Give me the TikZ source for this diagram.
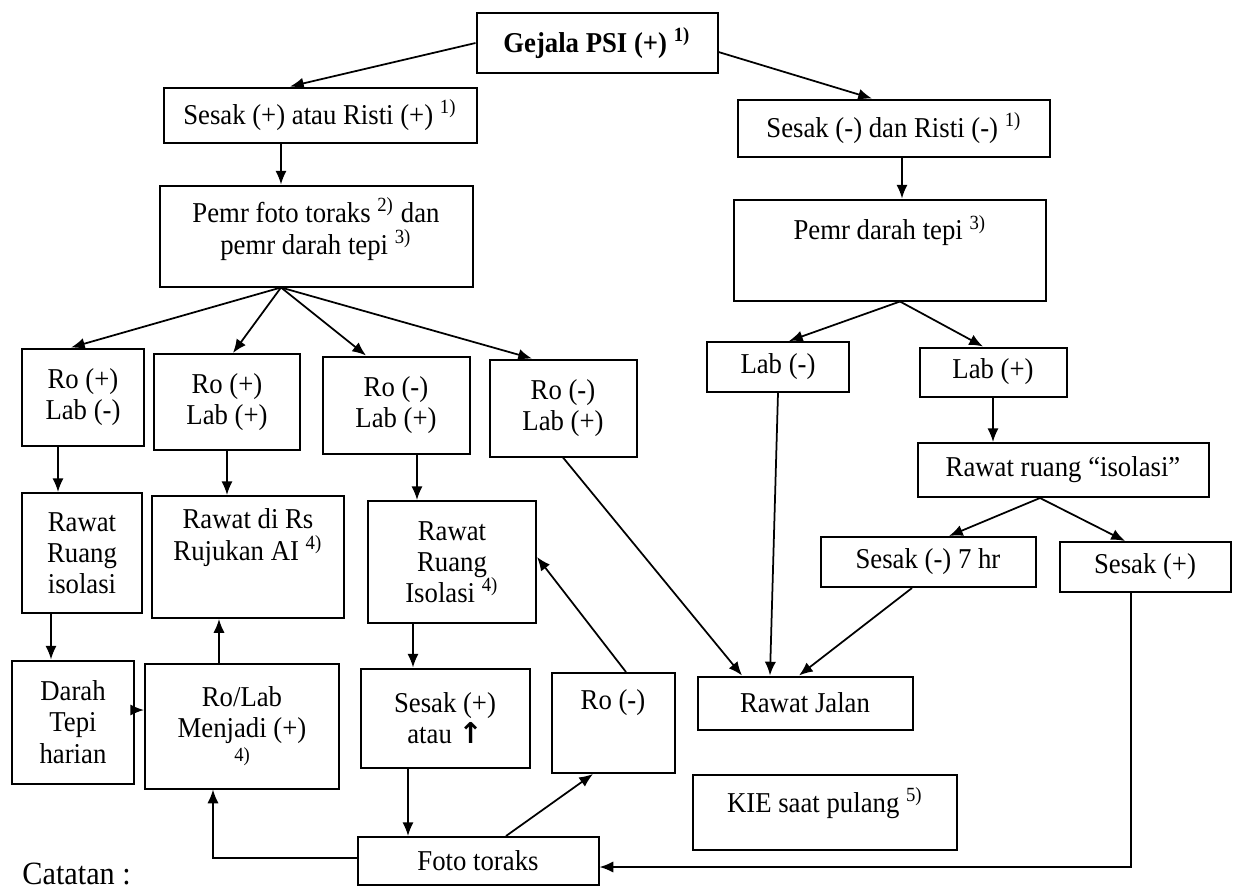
\documentclass[tikz,border=0pt]{standalone}
\usepackage{fontspec}
\setmainfont{Liberation Serif}[FakeStretch=0.93]
\newfontfamily\panahfont{DejaVu Sans}
\usetikzlibrary{arrows.meta}

\newcommand{\catn}[1]{\ \textsuperscript{#1)}}

\tikzset{
  kotak/.style 2 args={draw, line width=0.8pt, align=center, inner sep=1pt,
    minimum width=#1*0.4pt, minimum height=#2*0.4pt},
  panah/.style={-{Latex[length=5.5pt,width=4.5pt]}, line width=0.7pt},
  garis/.style={line width=0.7pt}
}

\begin{document}
\fontsize{11.5}{12.5}\selectfont
\begin{tikzpicture}[x=0.4pt, y=-0.4pt]
	\useasboundingbox (0,0) rectangle (1236,888);
	\node[kotak={241}{60}, font=\bfseries] (gejala) at (597,43) {Gejala PSI (+)\catn{1}};
	\node[kotak={313}{55}] (sesakp) at (320,115) {Sesak (+) atau Risti (+)\catn{1}};
	\node[kotak={312}{57}] (sesakn) at (894,128) {Sesak (-) dan Risti (-)\catn{1}};
	\node[kotak={313}{101}, text depth=8pt] (pemrfoto) at (316,236) {Pemr foto toraks\catn{2} dan\\pemr darah tepi\catn{3}};
	\node[kotak={312}{101}, text depth=18pt] (pemrdarah) at (890,250) {Pemr darah tepi\catn{3}};
	\node[kotak={122}{97}] (ro1) at (83,397) {Ro (+)\\Lab (-)};
	\node[kotak={146}{96}] (ro2) at (227,402) {Ro (+)\\Lab (+)};
	\node[kotak={147}{97}] (ro3) at (396,405) {Ro (-)\\Lab (+)};
	\node[kotak={147}{97}] (ro4) at (563,408) {Ro (-)\\Lab (+)};
	\node[kotak={142}{50}] (labn) at (778,367) {Lab (-)};
	\node[kotak={147}{49}] (labp) at (993,372) {Lab (+)};
	\node[kotak={291}{54}] (isolasi) at (1063,470) {Rawat ruang “isolasi”};
	\node[kotak={215}{50}] (sesak7) at (928,562) {Sesak (-) 7 hr};
	\node[kotak={171}{50}] (sesakpp) at (1145,567) {Sesak (+)};
	\node[kotak={120}{120}] (rawat1) at (82,553) {Rawat\\Ruang\\isolasi};
	\node[kotak={192}{122}, text depth=18pt] (rawatrs) at (248,557) {Rawat di Rs\\Rujukan AI\catn{4}};
	\node[kotak={168}{122}] (rawat3) at (452,562) {Rawat\\Ruang\\Isolasi\catn{4}};
	\node[kotak={122}{123}] (darah) at (73,722) {Darah\\Tepi\\harian};
	\node[kotak={194}{125}] (rolab) at (242,726) {Ro/Lab\\Menjadi (+)\\[-3pt]{\footnotesize 4)}};
	\node[kotak={169}{99}] (sesakatau) at (445,718) {Sesak (+)\\atau {\panahfont\bfseries ↑}};
	\node[kotak={123}{100}, text depth=18.5pt] (ron) at (613,723) {Ro (-)};
	\node[kotak={215}{53}] (jalan) at (805,703) {Rawat Jalan};
	\node[kotak={264}{75}, text depth=9.5pt] (kie) at (825,812) {KIE saat pulang\catn{5}};
	\node[kotak={241}{48}] (foto) at (478,861) {Foto toraks};
	\node[anchor=south west, inner sep=0pt, font=\fontsize{13}{13}\selectfont] (catatan) at (22,885) {Catatan :};

	\draw[panah] (gejala.west) -- ([xshift=-12pt]sesakp.north);
	\draw[panah] ([yshift=-3.6pt]gejala.east) -- ([xshift=-8.8pt]sesakn.north);
	\draw[panah] ([xshift=-15.6pt]sesakp.south) -- ([xshift=-14pt]pemrfoto.north);
	\draw[panah] ([xshift=3.2pt]sesakn.south) -- ([xshift=4.8pt]pemrdarah.north);

	\coordinate (pf) at ([xshift=-14pt]pemrfoto.south);
	\foreach \t/\s in {ro1/-4.8, ro2/2.4, ro3/-12, ro4/-12.4}
		\draw[panah] (pf) -- ([xshift=\s pt]\t.north);
	\coordinate (pd) at ([xshift=4pt]pemrdarah.south);
	\draw[panah] (pd) -- ([xshift=4.4pt]labn.north);
	\draw[panah] (pd) -- ([xshift=-4pt]labp.north);
	\draw[panah] (labp.south) -- (labp.south |- isolasi.north);
	\coordinate (ri) at ([xshift=-9.2pt]isolasi.south);
	\draw[panah] (ri) -- ([xshift=8.4pt]sesak7.north);
	\draw[panah] (ri) -- ([xshift=-8pt]sesakpp.north);

	\draw[panah] ([xshift=-10pt]ro1.south) -- ([xshift=-10pt]ro1.south |- rawat1.north);
	\draw[panah] (ro2.south) -- (ro2.south |- rawatrs.north);
	\draw[panah] ([xshift=8.4pt]ro3.south) -- ([xshift=8.4pt]ro3.south |- rawat3.north);
	\draw[panah] (ro4.south) -- ([xshift=-25.2pt]jalan.north);
	\draw[panah] (labn.south) -- ([xshift=-14pt]jalan.north);
	\draw[panah] ([xshift=-6.4pt]sesak7.south) -- ([xshift=-2.4pt]jalan.north);
	\draw[panah] ([xshift=-5.6pt]sesakpp.south) |- ([yshift=-2.4pt]foto.east);

	\draw[panah] ([xshift=-12.4pt]rawat1.south) -- ([xshift=-12.4pt]rawat1.south |- darah.north);
	\draw[panah] ([yshift=4.8pt]darah.east) -- ([yshift=4.8pt]darah.east -| rolab.west);
	\draw[panah] ([xshift=-9.2pt]rolab.north) -- ([xshift=-9.2pt]rolab.north |- rawatrs.south);
	\draw[panah] ([xshift=-15.6pt]rawat3.south) -- ([xshift=-15.6pt]rawat3.south |- sesakatau.north);
	\draw[panah] ([xshift=-14.8pt]sesakatau.south) -- ([xshift=-14.8pt]sesakatau.south |- foto.north);
	\draw[panah] ([yshift=1.2pt]foto.west) -| ([xshift=-11.6pt]rolab.south);
	\draw[panah] ([xshift=11.2pt]foto.north) -- ([xshift=-8pt]ron.south);
	\draw[panah] ([xshift=5.2pt]ron.north) -- ([yshift=2pt]rawat3.east);
\end{tikzpicture}
\end{document}
